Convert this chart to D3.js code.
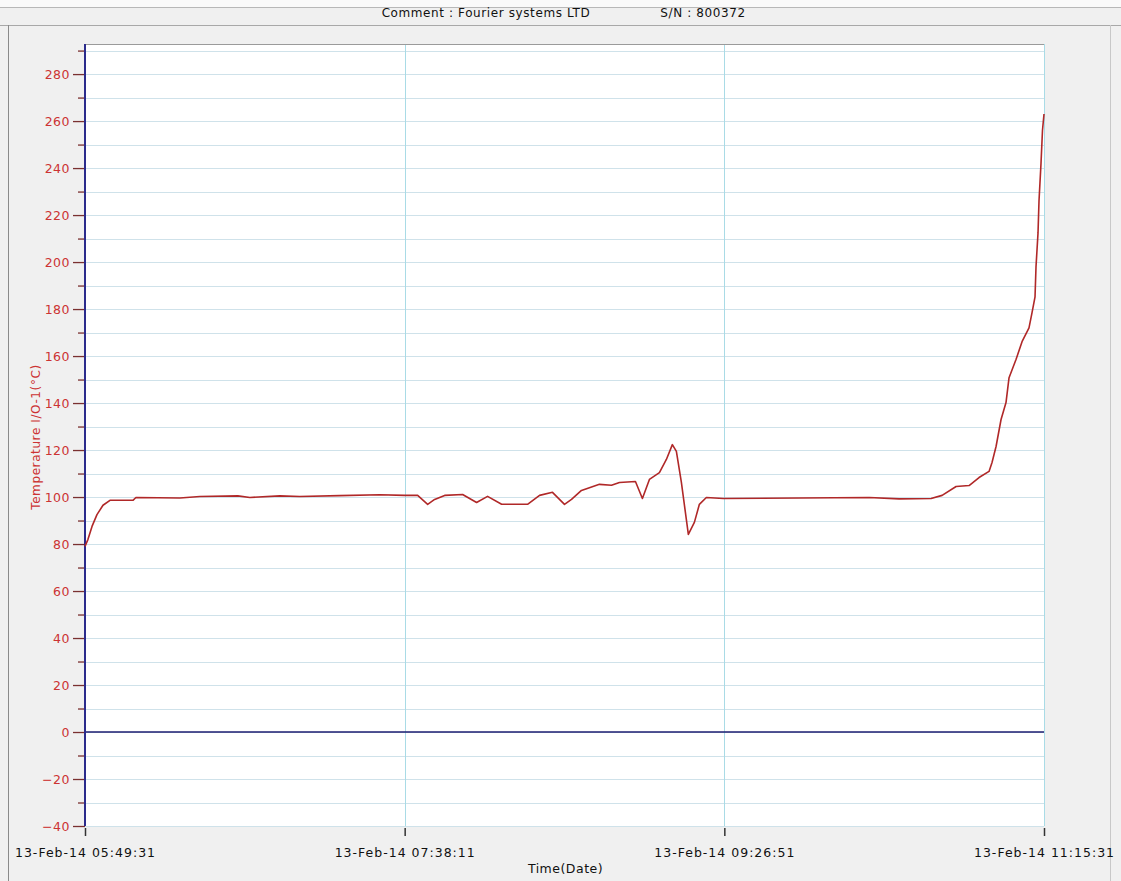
<!DOCTYPE html>
<html>
<head>
<meta charset="utf-8">
<script src="https://cdn.jsdelivr.net/npm/d3@7"></script>
<style>
  html, body { margin: 0; padding: 0; background: #f0f0f0; }
  svg { display: block; }
  text { font-family: "DejaVu Sans", Verdana, sans-serif; }
</style>
</head>
<body>
<svg id="chart" width="1121" height="881"></svg>
<script>
// ---- data ----
const dateStr = "2014-02-13";
const times = [
  "05:49:31","05:50:32","05:51:54","05:53:35","05:55:38","05:58:00","06:05:49","06:06:50",
  "06:21:47","06:28:34","06:41:29","06:45:33","06:55:44","07:02:32","07:16:07","07:29:42",
  "07:38:11","07:42:36","07:46:00","07:48:22","07:51:46","07:57:53","08:02:38","08:06:22",
  "08:11:08","08:19:57","08:24:02","08:28:26","08:32:31","08:34:54","08:38:17","08:44:24",
  "08:48:29","08:51:12","08:56:38","08:59:00","09:01:23","09:04:47","09:07:09","09:09:11",
  "09:10:33","09:12:15","09:14:37","09:16:40","09:18:22","09:20:44","09:26:31","09:52:19",
  "10:16:05","10:26:17","10:37:08","10:40:53","10:45:38","10:50:03","10:53:26","10:56:50",
  "10:57:51","10:59:13","11:00:55","11:02:36","11:03:38","11:06:00","11:08:03","11:10:25",
  "11:11:26","11:12:28","11:12:48","11:13:29","11:13:49","11:14:30","11:15:00","11:15:31"
];
const temps = [
  79, 82, 87.5, 92.5, 96.5, 98.6, 98.6, 99.8,
  99.6, 100.2, 100.5, 99.8, 100.5, 100.2, 100.6, 101,
  100.7, 100.7, 96.9, 99, 100.7, 101.1, 97.7, 100.3,
  96.9, 96.9, 100.7, 102, 96.9, 99, 102.8, 105.4,
  105, 106.2, 106.6, 99.4, 107.5, 110.4, 116, 122.3,
  119.4, 106.2, 84.1, 89.2, 96.9, 99.8, 99.4, 99.6,
  99.8, 99.2, 99.4, 100.7, 104.5, 104.9, 108.3, 110.9,
  114.7, 121.5, 133, 140.2, 150.8, 158.5, 166.1, 172,
  178.4, 185.2, 198, 212.4, 226, 242, 256, 263
];
const xTickTimes = ["05:49:31","07:38:11","09:26:51","11:15:31"];
const yMajorTicks = [-40,-20,0,20,40,60,80,100,120,140,160,180,200,220,240,260,280];
const yMinorTicks = [-30,-10,10,30,50,70,90,110,130,150,170,190,210,230,250,270,290];
const yGridValues = d3.range(-40, 291, 10);
const headerComment = "Comment : Fourier systems LTD";
const headerSN = "S/N : 800372";
const xTitle = "Time(Date)";
const yTitle = "Temperature I/O-1(°C)";

// ---- layout ----
const parse = d3.timeParse("%Y-%m-%d %H:%M:%S");
const toDate = t => parse(dateStr + " " + t);
const data = times.map((t, i) => ({ t: toDate(t), v: temps[i] }));

const L = 85, R = 1044, T = 44, B = 826;
const svg = d3.select("#chart");

const x = d3.scaleTime()
  .domain([toDate(xTickTimes[0]), toDate(xTickTimes[xTickTimes.length - 1])])
  .range([L, R]);
const y = d3.scaleLinear().domain([-40, 292.8]).range([B, T]);

// window chrome
svg.append("rect").attr("x", 0).attr("y", 0).attr("width", 1121).attr("height", 881).attr("fill", "#f0f0f0");
svg.append("rect").attr("x", 0).attr("y", 0).attr("width", 1121).attr("height", 7).attr("fill", "#fafafa");
svg.append("line").attr("x1", 0).attr("x2", 1121).attr("y1", 7.5).attr("y2", 7.5).attr("stroke", "#b8b8b8");
svg.append("line").attr("x1", 0).attr("x2", 1121).attr("y1", 25.5).attr("y2", 25.5).attr("stroke", "#a8a8a8");
svg.append("line").attr("x1", 8.5).attr("x2", 8.5).attr("y1", 25).attr("y2", 881).attr("stroke", "#8a8a8a");
svg.append("line").attr("x1", 1110.5).attr("x2", 1110.5).attr("y1", 25).attr("y2", 881).attr("stroke", "#c8c8c8");

svg.append("text").attr("x", 486).attr("y", 17).attr("text-anchor", "middle")
  .attr("font-size", 12).attr("letter-spacing", 0.6).attr("fill", "#111").text(headerComment);
svg.append("text").attr("x", 703).attr("y", 17).attr("text-anchor", "middle")
  .attr("font-size", 12).attr("letter-spacing", 0.6).attr("fill", "#111").text(headerSN);

// plot background
svg.append("rect").attr("x", L).attr("y", T).attr("width", R - L).attr("height", B - T).attr("fill", "#ffffff");

// horizontal grid
svg.append("g").selectAll("line").data(yGridValues).join("line")
  .attr("x1", L).attr("x2", R)
  .attr("y1", d => Math.round(y(d)) + 0.5).attr("y2", d => Math.round(y(d)) + 0.5)
  .attr("stroke", "#cfe2ea").attr("stroke-width", 1.2);

// vertical grid
svg.append("g").selectAll("line").data(xTickTimes.slice(1)).join("line")
  .attr("x1", d => Math.round(x(toDate(d))) + 0.5).attr("x2", d => Math.round(x(toDate(d))) + 0.5)
  .attr("y1", T).attr("y2", B)
  .attr("stroke", "#a9dbe6").attr("stroke-width", 1);

// top border
svg.append("line").attr("x1", L).attr("x2", R).attr("y1", T + 0.5).attr("y2", T + 0.5)
  .attr("stroke", "#9a9a9a").attr("stroke-width", 1.2);

// zero line
svg.append("line").attr("x1", L).attr("x2", R).attr("y1", y(0)).attr("y2", y(0))
  .attr("stroke", "#1c1c70").attr("stroke-width", 1.5);

// y axis major
const yAxis = d3.axisLeft(y).tickValues(yMajorTicks).tickSize(12).tickPadding(3).tickFormat(d3.format("d"));
const gy = svg.append("g").attr("transform", `translate(${L},0)`).call(yAxis);
gy.select(".domain").remove();
gy.selectAll(".tick line").attr("stroke", "#7a3030").attr("stroke-width", 1.3);
gy.selectAll(".tick text").attr("fill", "#cc3333").attr("font-size", 12.5)
  .attr("letter-spacing", 0.5).attr("font-family", "DejaVu Sans, sans-serif");

// y axis minor
const yMinor = d3.axisLeft(y).tickValues(yMinorTicks).tickSize(7).tickFormat("");
const gym = svg.append("g").attr("transform", `translate(${L},0)`).call(yMinor);
gym.select(".domain").remove();
gym.selectAll(".tick line").attr("stroke", "#7a3030").attr("stroke-width", 1.3);

// left axis line
svg.append("line").attr("x1", L).attr("x2", L).attr("y1", T).attr("y2", B)
  .attr("stroke", "#2b2b8c").attr("stroke-width", 2);

// x axis
const fmt = d3.timeFormat("%d-%b-%y %H:%M:%S");
const xAxis = d3.axisBottom(x).tickValues(xTickTimes.map(toDate)).tickSize(8).tickPadding(12).tickFormat(fmt);
const gx = svg.append("g").attr("transform", `translate(0,${B + 2})`).call(xAxis);
gx.select(".domain").remove();
gx.selectAll(".tick line").attr("stroke", "#333").attr("stroke-width", 1.5);
gx.selectAll(".tick text").attr("fill", "#111").attr("font-size", 12.5)
  .attr("letter-spacing", 1).attr("font-family", "DejaVu Sans, sans-serif");

// axis titles
svg.append("text").attr("x", (L + R) / 2 + 1).attr("y", 873).attr("text-anchor", "middle")
  .attr("font-size", 12.5).attr("letter-spacing", 0.5).attr("fill", "#111").text(xTitle);
svg.append("text").attr("transform", "translate(40,437) rotate(-90)").attr("text-anchor", "middle")
  .attr("font-size", 12).attr("letter-spacing", 0.6).attr("fill", "#cc3333").text(yTitle);

// data line
const line = d3.line().x(d => x(d.t)).y(d => y(d.v));
svg.append("path").datum(data).attr("d", line)
  .attr("fill", "none").attr("stroke", "#b02828").attr("stroke-width", 1.6)
  .attr("stroke-linejoin", "round");
</script>
</body>
</html>
